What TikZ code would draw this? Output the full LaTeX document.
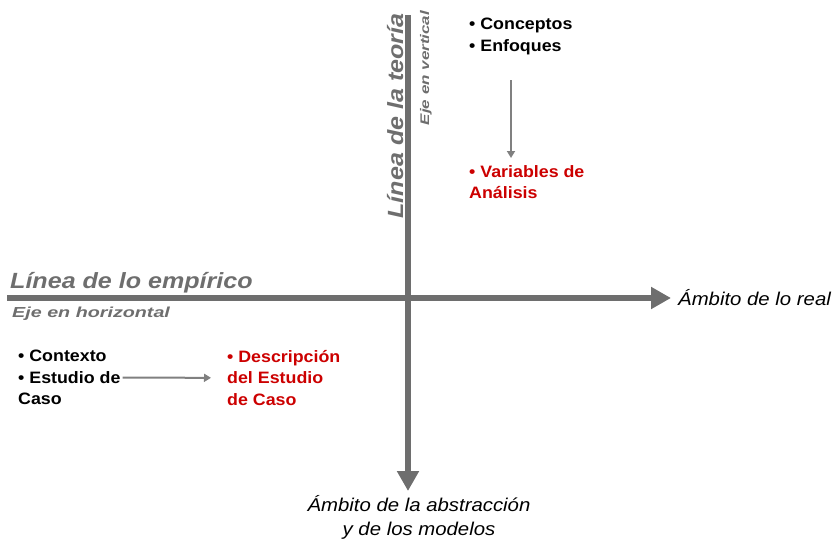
\documentclass[tikz,border=0pt]{standalone}
\usepackage{fontspec}
\setmainfont{Liberation Sans}[FakeStretch=1.08]
\newfontfamily\axisfont{Liberation Sans}[FakeStretch=1.14]
\newfontfamily\notefont{Liberation Sans}[FakeStretch=1.36]
\newfontfamily\scopefont{Liberation Sans}[FakeStretch=1.1]
\usetikzlibrary{arrows.meta}
\definecolor{axisgray}{RGB}{110,110,110}
\definecolor{darkred}{RGB}{204,0,0}

\begin{document}
\begin{tikzpicture}[x=1pt,y=-1pt,
    every node/.style={inner sep=0pt,font=\fontsize{16.5}{21.5}\selectfont\bfseries,align=left},
    axislabel/.style={text=axisgray,font=\axisfont\fontsize{22}{24}\selectfont\bfseries\itshape},
    axisnote/.style={text=axisgray,font=\notefont\fontsize{14.5}{16}\selectfont\bfseries\itshape},
    scopelabel/.style={font=\scopefont\fontsize{18.5}{24}\selectfont\itshape,align=center},
    axis/.style={axisgray,line width=6.5pt,-{Triangle[width=21pt,length=20pt]}},
    link/.style={gray,line width=2pt,-{Triangle[width=8pt,length=7pt]}}]
    \useasboundingbox (0,0) rectangle (833,541);

    % axes
    \coordinate (top) at (408,15);
    \coordinate (bottom) at (408,491);
    \coordinate (left) at (7,298);
    \coordinate (right) at (671,298);
    \draw[axis] (top) -- (bottom);
    \draw[axis] (left) -- (right);

    % axis labels
    \node[axislabel,rotate=90,anchor=base] (teoria) at (403,116) {Línea de la teoría};
    \node[axisnote,rotate=90,anchor=base,font=\notefont\fontsize{12.5}{14}\selectfont\bfseries\itshape] (vertical) at (429,68) {Eje en vertical};
    \node[axislabel,anchor=base west] (empirico) at (10,288) {Línea de lo empírico};
    \node[axisnote,anchor=base west] (horizontal) at (12,317) {Eje en horizontal};
    \node[scopelabel,anchor=base west] (real) at (678,305) {Ámbito de lo real};
    \node[scopelabel,anchor=north] (abstraccion) at (419,495) {Ámbito de la abstracción\\y de los modelos};

    % nodes
    \node[anchor=north west] (conceptos) at (469,18) {• Conceptos\\• Enfoques};
    \node[anchor=north west,text=darkred] (variables) at (469,165) {• Variables de\\Análisis};
    \node[anchor=north west] (contexto) at (18,350) {• Contexto\\• Estudio de\\Caso};
    \node[anchor=north west,text=darkred] (descripcion) at (227,350) {• Descripción\\del Estudio\\de Caso};

    % edges
    \coordinate (ctail) at (511,80);
    \draw[link,shorten >=7pt] (ctail) -- (variables.north -| ctail);
    \draw[link] ([xshift=2pt]contexto.east) -- ([xshift=-16pt]descripcion.west);
\end{tikzpicture}
\end{document}
